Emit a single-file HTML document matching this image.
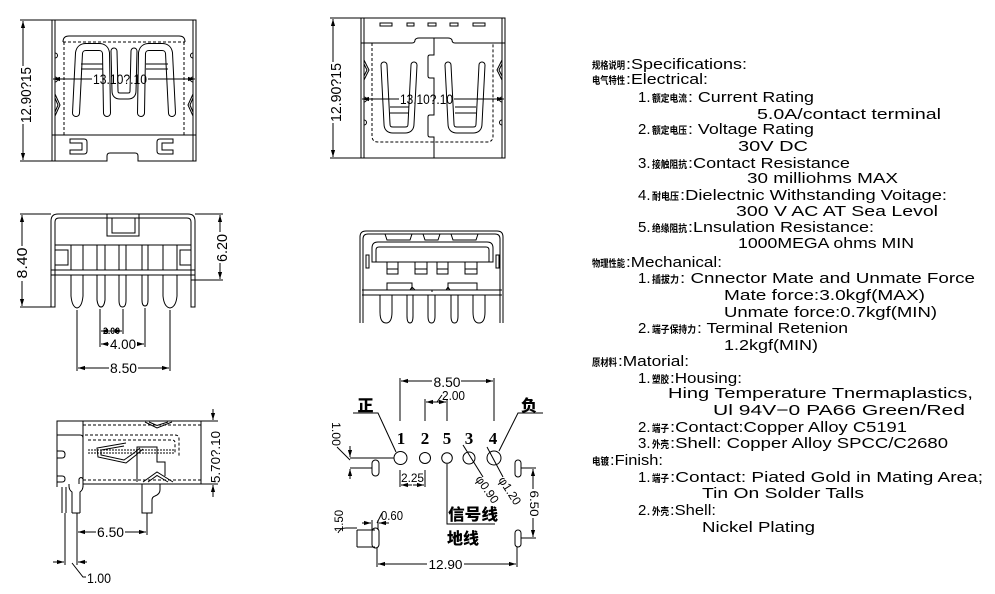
<!DOCTYPE html>
<html><head><meta charset="utf-8">
<style>
html,body{margin:0;padding:0;background:#fff;}
svg{display:block;}
text{font-family:"Liberation Sans","Noto Sans CJK SC",sans-serif;fill:#000;stroke:none;}
.cn{font-family:"Noto Sans CJK SC",sans-serif;font-weight:bold;font-size:10px;}
.t{font-size:15px;}
.d{font-size:14px;}
.b{font-family:"Liberation Serif",serif;font-weight:bold;font-size:17px;}
.bc{font-family:"Noto Sans CJK SC",sans-serif;font-weight:900;font-size:16px;}
</style></head><body>
<svg width="995" height="594" viewBox="0 0 995 594" xmlns="http://www.w3.org/2000/svg">
<defs>
<marker id="ae" markerUnits="userSpaceOnUse" markerWidth="8" markerHeight="6" refX="7" refY="3" orient="auto"><path d="M0,0.9 L7,3 L0,5.1z" fill="#000"/></marker>
</defs>
<rect width="995" height="594" fill="#fff"/>

<!-- ================= VIEW 1 ================= -->
<g fill="none" stroke="#000" stroke-width="1">
<path d="M52,161 V20 H196 V161 H138 V156 Q138,153 135,153 H110 Q107,153 107,156 V161 Z"/>
<path d="M55,20 V161 M193,20 V161 M52,135 H196"/>
<path d="M63,42 Q63,36 69,36 H179 Q185,36 185,42"/>
<path d="M63,42 H185 M64,42 V135 M184,42 V135" stroke-dasharray="3,2"/>
<path d="M70,139 H84 Q87,139 87,142 V151 Q87,154 84,154 H70 V150 H82 V143 H70 Z"/>
<path d="M173,139 H160 Q157,139 157,142 V151 Q157,154 160,154 H173 V150 H162 V143 H173 Z"/>
<path d="M55,53 A2.5,2.5 0 0 1 55,58 M55,77 A2.5,2.5 0 0 1 55,82 M55,94 L60,105 L55,116 M55,98 L58,105 L55,112"/>
<path d="M193,53 A2.5,2.5 0 0 0 193,58 M193,77 A2.5,2.5 0 0 0 193,82 M193,94 L188,105 L193,116 M193,98 L190,105 L193,112"/>
</g>
<g fill="none" stroke-linecap="round" stroke-linejoin="round">
<path d="M76,113 L79,53 Q80,47 86,47 H99 Q105,47 106,53 L107,113" stroke="#000" stroke-width="8"/>
<path d="M76,113 L79,53 Q80,47 86,47 H99 Q105,47 106,53 L107,113" stroke="#fff" stroke-width="6"/>
<path d="M172,113 L169,53 Q168,47 162,47 H149 Q143,47 142,53 L141,113" stroke="#000" stroke-width="8"/>
<path d="M172,113 L169,53 Q168,47 162,47 H149 Q143,47 142,53 L141,113" stroke="#fff" stroke-width="6"/>
<path d="M114,51 L115,91 Q115,96 120,96 H128 Q133,96 133,91 L134,51" stroke="#000" stroke-width="7"/>
<path d="M114,51 L115,91 Q115,96 120,96 H128 Q133,96 133,91 L134,51" stroke="#fff" stroke-width="5"/>
</g>
<g fill="none" stroke="#000" stroke-width="1">
<path d="M81,64 H103 M81,69 H103 M146,64 H168 M146,69 H168"/>
<path d="M92,79 H53" marker-end="url(#ae)"/>
<path d="M148,79 H195" marker-end="url(#ae)"/>
<path d="M23,66 V21" marker-end="url(#ae)"/>
<path d="M23,124 V160" marker-end="url(#ae)"/>
<path d="M20,20 H52 M20,161 H52"/>
</g>
<text class="d" x="120" y="84" text-anchor="middle" textLength="54" lengthAdjust="spacingAndGlyphs">13.10?.10</text>
<text transform="translate(31,95) rotate(-90)" font-size="15" text-anchor="middle" textLength="56" lengthAdjust="spacingAndGlyphs">12.90?15</text>

<!-- ================= VIEW 2 ================= -->
<g fill="none" stroke="#000" stroke-width="1">
<path d="M361,18 H505 V158 H361 Z M364,18 V158 M502,18 V158"/>
<path d="M380,23 h12 v3 h-12z M407,23 h7 v3 h-7z M428,23 h8 v3 h-8z M450,23 h8 v3 h-8z M473,23 h12 v3 h-12z"/>
<path d="M361,43 H412 Q415,43 415,40 Q416,38 419,38 H448 Q451,38 452,40 Q452,43 455,43 H505"/>
<path d="M434,38 V55 H430 Q428,55 428,57 V76 Q428,78 430,78 H434 V115 H430 Q428,115 428,117 V135 Q428,137 430,137 H434 V158"/>
<path d="M372,43 V136 Q372,142 378,142 H487 Q493,142 493,136 V43" stroke-dasharray="3,2"/>
<path d="M364,60 L369,70 L364,80 M364,64 L367,70 L364,76"/>
<path d="M502,60 L497,70 L502,80 M502,64 L499,70 L502,76"/>
<path d="M364,97 A2.5,2.5 0 0 1 364,102 M364,120 A2.5,2.5 0 0 1 364,125 M502,97 A2.5,2.5 0 0 0 502,102 M502,120 A2.5,2.5 0 0 0 502,125"/>
</g>
<g fill="none" stroke-linecap="round" stroke-linejoin="round">
<path d="M384,65 L387,124 Q387,130 393,130 H405 Q411,130 411,124 L414,65" stroke="#000" stroke-width="7"/>
<path d="M384,65 L387,124 Q387,130 393,130 H405 Q411,130 411,124 L414,65" stroke="#fff" stroke-width="5"/>
<path d="M448,65 L451,124 Q451,130 457,130 H473 Q479,130 479,124 L482,65" stroke="#000" stroke-width="7"/>
<path d="M448,65 L451,124 Q451,130 457,130 H473 Q479,130 479,124 L482,65" stroke="#fff" stroke-width="5"/>
</g>
<g fill="none" stroke="#000" stroke-width="1">
<path d="M390,107 H409 M390,113 H409 M455,107 H476 M455,113 H476"/>
<path d="M399,99 H362" marker-end="url(#ae)"/>
<path d="M454,99 H504" marker-end="url(#ae)"/>
<path d="M333,62 V19" marker-end="url(#ae)"/>
<path d="M333,123 V157" marker-end="url(#ae)"/>
<path d="M330,18 H361 M330,158 H361"/>
</g>
<text class="d" x="426.5" y="104" text-anchor="middle" textLength="53" lengthAdjust="spacingAndGlyphs">13.10?.10</text>
<text transform="translate(341,92.5) rotate(-90)" font-size="15" text-anchor="middle" textLength="59" lengthAdjust="spacingAndGlyphs">12.90?15</text>

<!-- ================= VIEW 3 ================= -->
<g fill="none" stroke="#000" stroke-width="1">
<path d="M51,307 V221 Q51,214 58,214 H188 Q195,214 195,221 V307 H191 V222 Q191,218 187,218 H59 Q55,218 55,222 V307 Z"/>
<path d="M107,214 V236 H139 V214"/>
<rect x="112" y="218" width="23" height="15"/>
<path d="M55,245 H191 M51,270 H195 M51,275 H195"/>
<path d="M55,250 H68 V265 H55 M191,250 H180 V265 H191"/>
<path d="M71,245 V270 M83,245 V270 M97,245 V270 M105,245 V270 M119,245 V270 M126,245 V270 M142,245 V270 M148,245 V270 M163,245 V270 M177,245 V270"/>
<path d="M71,275 V296 Q72,307 77,308 Q82,307 83,296 V275"/>
<path d="M97,275 V300 Q98,307 101,307 Q104,307 105,300 V275"/>
<path d="M119,275 V300 Q119,307 122.5,307 Q126,307 126,300 V275"/>
<path d="M142,275 V300 Q142,306 145,306 Q148,306 148,300 V275"/>
<path d="M163,275 V296 Q164,307 170,308 Q176,307 177,296 V275"/>
<path d="M20,214 H51 M20,307 H51"/>
<path d="M22,246 V215" marker-end="url(#ae)"/>
<path d="M22,281 V306" marker-end="url(#ae)"/>
<path d="M195,214 H223 M191,280 H223"/>
<path d="M220,232 V215" marker-end="url(#ae)"/>
<path d="M220,263 V279" marker-end="url(#ae)"/>
<path d="M77,310 V371 M100,309 V347 M123,309 V334 M145,308 V347 M170,310 V371"/>
<path d="M111,331 H101" marker-end="url(#ae)"/>
<path d="M112,331 H122" marker-end="url(#ae)"/>
<path d="M109,344 H101" marker-end="url(#ae)"/>
<path d="M137,344 H144" marker-end="url(#ae)"/>
<path d="M109,368 H78" marker-end="url(#ae)"/>
<path d="M138,368 H169" marker-end="url(#ae)"/>
</g>
<text transform="translate(27,263) rotate(-90)" font-size="15" text-anchor="middle" textLength="31" lengthAdjust="spacingAndGlyphs">8.40</text>
<text transform="translate(227,248) rotate(-90)" font-size="15" text-anchor="middle" textLength="28" lengthAdjust="spacingAndGlyphs">6.20</text>
<text x="111.5" y="334" font-size="9" font-weight="bold" text-anchor="middle" textLength="17" lengthAdjust="spacingAndGlyphs">2.00</text>
<text class="d" x="123" y="349" text-anchor="middle" textLength="26" lengthAdjust="spacingAndGlyphs">4.00</text>
<text class="d" x="123.5" y="373" text-anchor="middle" textLength="27" lengthAdjust="spacingAndGlyphs">8.50</text>

<!-- ================= VIEW 4 ================= -->
<g fill="none" stroke="#000" stroke-width="1">
<path d="M360,323 V237 Q360,231 366,231 H497 Q503,231 503,237 V323"/>
<path d="M363,323 V239 Q363,234 368,234 H495 Q500,234 500,239 V323"/>
<path d="M372,262 V248 Q372,242 378,242 H487 Q493,242 493,248 V262 Z"/>
<path d="M376,262 V250 Q376,247 379,247 H486 Q489,247 489,250 V262"/>
<path d="M366,255 h3 v13 h-3z M496,255 h3 v13 h-3z"/>
<path d="M385,234 L387,240 H410 L412,234 M384,234 h4 M410,234 h4"/>
<path d="M423,234 L425,240 H438 L440,234 M422,234 h4 M437,234 h4"/>
<path d="M451,234 L453,240 H476 L478,234 M450,234 h4 M475,234 h4"/>
<path d="M387,262 V274 H398 V262 M387,269 H398"/>
<path d="M415,262 V274 H427 V262 M415,269 H427"/>
<path d="M437,262 V274 H448 V262 M437,269 H448"/>
<path d="M465,262 V274 H477 V262 M465,269 H477"/>
<path d="M387,290 V283 H412 V290 M410,290 L412,287 L415,290"/>
<path d="M448,290 V283 H477 V290 M446,290 L448,287 L450,290"/>
<path d="M362,290 H502 M362,295 H502 M432,290 V292"/>
<path d="M380,295 V312 Q380,323 386,323 Q392,323 392,312 V295"/>
<path d="M407,295 V316 Q407,323 410,323 Q413,323 413,316 V295"/>
<path d="M428,295 V316 Q428,323 431.5,323 Q435,323 435,316 V295"/>
<path d="M451,295 V316 Q451,323 454.5,323 Q458,323 458,316 V295"/>
<path d="M473,295 V312 Q473,323 479,323 Q485,323 485,312 V295"/>
</g>

<!-- ================= VIEW 5 ================= -->
<g fill="none" stroke="#000" stroke-width="1">
<path d="M57,487 V421 H201 V484 H83"/>
<path d="M83,425 H201 M83,480 H201" stroke-dasharray="3,2"/>
<path d="M83,421 V487 M57,435 H80 Q83,435 83,438"/>
<path d="M57,451 H62 Q65,451 65,454.5 Q65,458 62,458 H57 M57,476 H62 Q65,476 65,479 Q65,482 62,482 H57"/>
<path d="M85,435 H175 Q179,435 179,439 V457 M88,440 H172 Q175,440 175,443 V453" stroke-dasharray="3,2"/>
<path d="M88,450 H175 M88,453 H175" stroke-dasharray="2,1"/>
<path d="M126,443 L97,448 L98,457 L126,463 L136,455 L143,449 M124,446 L101,450 L101,455 L124,460 L134,453 L140,448"/>
<path d="M137,482 V447 H157 V462 H165 V476"/>
<path d="M145,422 L157,428 L172,422 M149,422 L157,425.5 L168,422"/>
<path d="M143,482 L157,472 L173,482 M148,482 L157,475.5 L168,482"/>
<path d="M62,487 V513 M66,487 V513"/>
<path d="M72,513 V492 Q69,490 69,486 V484 M80,513 V492 Q83,490 83,486 V484 M72,513 H80"/>
<path d="M79,484 V479 Q81,476 83,479"/>
<path d="M142,484 V513 H152 V500 Q152,497 155,496 Q160,494 160,490 V484"/>
<path d="M77,513 V565 M65,513 V565 M147,513 V535"/>
<path d="M96,532 H78" marker-end="url(#ae)"/>
<path d="M125,532 H146" marker-end="url(#ae)"/>
<path d="M53,562 H64" marker-end="url(#ae)"/>
<path d="M87,562 H78" marker-end="url(#ae)"/>
<path d="M72,563 L83,577 H86"/>
<path d="M201,421 H218 M201,484 H218"/>
<path d="M213,409 V420" marker-end="url(#ae)"/>
<path d="M213,497 V485" marker-end="url(#ae)"/>
</g>
<text class="d" x="110.5" y="537" text-anchor="middle" textLength="27" lengthAdjust="spacingAndGlyphs">6.50</text>
<text class="d" x="87" y="583" textLength="24" lengthAdjust="spacingAndGlyphs">1.00</text>
<text transform="translate(220,457) rotate(-90)" font-size="13" text-anchor="middle" textLength="52" lengthAdjust="spacingAndGlyphs">5.70?.10</text>

<!-- ================= VIEW 6 ================= -->
<g fill="none" stroke="#000" stroke-width="1">
<circle cx="400.5" cy="458" r="6.5"/>
<circle cx="425" cy="458" r="5.5"/>
<circle cx="447" cy="458" r="5.3"/>
<circle cx="469" cy="458" r="6"/>
<circle cx="494" cy="458" r="7"/>
<path d="M400,378 V421 M494,378 V421"/>
<path d="M432,381 H401" marker-end="url(#ae)"/>
<path d="M461,381 H493" marker-end="url(#ae)"/>
<path d="M425,399 V421 M447,399 V421"/>
<path d="M436,402 H426" marker-end="url(#ae)"/>
<path d="M436,402 H446" marker-end="url(#ae)"/>
<path d="M437,402 L442,395"/>
<path d="M353,413 H378 L396,452"/>
<path d="M543,413 H518 L499,451"/>
<path d="M463,445 L483,477"/>
<path d="M487,447 L503,477"/>
<path d="M337,447 L350,460"/>
<path d="M350,458 H394 M350,468 H372"/>
<path d="M350,446 V457" marker-end="url(#ae)"/>
<path d="M350,479 V469" marker-end="url(#ae)"/>
<rect x="372" y="460" width="7" height="16" rx="3.5"/>
<path d="M400,470 V487 M425,470 V487"/>
<path d="M412,485 H401" marker-end="url(#ae)"/>
<path d="M413,485 H424" marker-end="url(#ae)"/>
<path d="M447,464 V524 H495"/>
<rect x="515" y="460" width="6" height="17" rx="3"/>
<rect x="515" y="530" width="6" height="17" rx="3"/>
<path d="M521,468 H536 M521,538 H536"/>
<path d="M533,489 V469" marker-end="url(#ae)"/>
<path d="M533,518 V537" marker-end="url(#ae)"/>
<path d="M357,530 H375 M357,547 H375 M357,530 V547"/>
<rect x="372" y="528" width="7" height="20" rx="3.5"/>
<path d="M338,533 Q340,528 346,528 H357"/>
<path d="M372,520 V530 M378,520 V530"/>
<path d="M362,523 H371" marker-end="url(#ae)"/>
<path d="M389,523 H379" marker-end="url(#ae)"/>
<path d="M377,523 L382,513"/>
<path d="M377,548 V567 M517,547 V567"/>
<path d="M427,564 H378" marker-end="url(#ae)"/>
<path d="M464,564 H516" marker-end="url(#ae)"/>
</g>
<text class="b" x="401" y="444" text-anchor="middle">1</text>
<text class="b" x="425" y="444" text-anchor="middle">2</text>
<text class="b" x="447" y="444" text-anchor="middle">5</text>
<text class="b" x="469" y="444" text-anchor="middle">3</text>
<text class="b" x="493" y="444" text-anchor="middle">4</text>
<text class="bc" x="365.5" y="411" text-anchor="middle">正</text>
<text class="bc" x="529" y="411" text-anchor="middle">负</text>
<text class="bc" x="448" y="520" textLength="50" lengthAdjust="spacingAndGlyphs">信号线</text>
<text class="bc" x="447" y="544">地线</text>
<text class="d" x="447" y="387" text-anchor="middle" textLength="27" lengthAdjust="spacingAndGlyphs">8.50</text>
<text x="442" y="400" font-size="13" textLength="23" lengthAdjust="spacingAndGlyphs">2.00</text>
<text x="412.5" y="482" font-size="12" text-anchor="middle" textLength="23" lengthAdjust="spacingAndGlyphs">2.25</text>
<text transform="translate(475,479) rotate(55)" font-size="12" textLength="31" lengthAdjust="spacingAndGlyphs">φ0.90</text>
<text transform="translate(498,480) rotate(57)" font-size="12" textLength="31" lengthAdjust="spacingAndGlyphs">φ1.20</text>
<text transform="translate(332,422) rotate(90)" font-size="12" textLength="24" lengthAdjust="spacingAndGlyphs">1.00</text>
<text transform="translate(530,503.5) rotate(90)" font-size="12" text-anchor="middle" textLength="26" lengthAdjust="spacingAndGlyphs">6.50</text>
<text transform="translate(343,521) rotate(-90)" font-size="12" text-anchor="middle" textLength="22" lengthAdjust="spacingAndGlyphs">1.50</text>
<text x="381" y="520" font-size="13" textLength="22" lengthAdjust="spacingAndGlyphs">0.60</text>
<text x="445.5" y="569" font-size="13" text-anchor="middle" textLength="34" lengthAdjust="spacingAndGlyphs">12.90</text>

<!-- ================= SPEC TEXT ================= -->
<g class="t">
<text class="cn" x="592" y="69" textLength="33" lengthAdjust="spacingAndGlyphs">规格说明</text>
<text x="626" y="69" textLength="121" lengthAdjust="spacingAndGlyphs">:Specifications:</text>
<text class="cn" x="592" y="84" textLength="33" lengthAdjust="spacingAndGlyphs">电气特性</text>
<text x="626" y="84" textLength="82" lengthAdjust="spacingAndGlyphs">:Electrical:</text>

<text x="638" y="102">1.</text>
<text class="cn" x="652" y="102" textLength="35" lengthAdjust="spacingAndGlyphs">额定电流</text>
<text x="688" y="102" textLength="126" lengthAdjust="spacingAndGlyphs">: Current  Rating</text>
<text x="757" y="119" textLength="184" lengthAdjust="spacingAndGlyphs">5.0A/contact  terminal</text>

<text x="638" y="134">2.</text>
<text class="cn" x="652" y="134" textLength="35" lengthAdjust="spacingAndGlyphs">额定电压</text>
<text x="688" y="134" textLength="126" lengthAdjust="spacingAndGlyphs">: Voltage  Rating</text>
<text x="738" y="151" textLength="70" lengthAdjust="spacingAndGlyphs">30V  DC</text>

<text x="638" y="168">3.</text>
<text class="cn" x="652" y="168" textLength="35" lengthAdjust="spacingAndGlyphs">接触阻抗</text>
<text x="688" y="168" textLength="162" lengthAdjust="spacingAndGlyphs">:Contact  Resistance</text>
<text x="747" y="183" textLength="151" lengthAdjust="spacingAndGlyphs">30  milliohms  MAX</text>

<text x="638" y="200">4.</text>
<text class="cn" x="652" y="200" textLength="27" lengthAdjust="spacingAndGlyphs">耐电压</text>
<text x="680" y="200" textLength="267" lengthAdjust="spacingAndGlyphs">:Dielectnic  Withstanding  Voitage:</text>
<text x="736" y="216" textLength="202" lengthAdjust="spacingAndGlyphs">300  V  AC  AT  Sea  Levol</text>

<text x="638" y="232">5.</text>
<text class="cn" x="652" y="232" textLength="35" lengthAdjust="spacingAndGlyphs">绝缘阻抗</text>
<text x="688" y="232" textLength="186" lengthAdjust="spacingAndGlyphs">:Lnsulation  Resistance:</text>
<text x="738" y="248" textLength="176" lengthAdjust="spacingAndGlyphs">1000MEGA  ohms  MIN</text>

<text class="cn" x="592" y="267" textLength="33" lengthAdjust="spacingAndGlyphs">物理性能</text>
<text x="626" y="267" textLength="96" lengthAdjust="spacingAndGlyphs">:Mechanical:</text>

<text x="638" y="283">1.</text>
<text class="cn" x="652" y="283" textLength="27" lengthAdjust="spacingAndGlyphs">插拔力</text>
<text x="680" y="283" textLength="295" lengthAdjust="spacingAndGlyphs">: Cnnector  Mate  and  Unmate  Force</text>
<text x="724" y="300" textLength="201" lengthAdjust="spacingAndGlyphs">Mate  force:3.0kgf(MAX)</text>
<text x="724" y="317" textLength="213" lengthAdjust="spacingAndGlyphs">Unmate  force:0.7kgf(MIN)</text>

<text x="638" y="333">2.</text>
<text class="cn" x="652" y="333" textLength="44" lengthAdjust="spacingAndGlyphs">端子保持力</text>
<text x="697" y="333" textLength="151" lengthAdjust="spacingAndGlyphs">: Terminal  Retenion</text>
<text x="724" y="350" textLength="94" lengthAdjust="spacingAndGlyphs">1.2kgf(MIN)</text>

<text class="cn" x="592" y="366" textLength="25" lengthAdjust="spacingAndGlyphs">原材料</text>
<text x="618" y="366" textLength="71" lengthAdjust="spacingAndGlyphs">:Matorial:</text>

<text x="638" y="383">1.</text>
<text class="cn" x="652" y="383" textLength="17" lengthAdjust="spacingAndGlyphs">塑胶</text>
<text x="670" y="383" textLength="72" lengthAdjust="spacingAndGlyphs">:Housing:</text>
<text x="668" y="398" textLength="305" lengthAdjust="spacingAndGlyphs">Hing  Temperature   Tnermaplastics,</text>
<text x="713" y="415" textLength="252" lengthAdjust="spacingAndGlyphs">Ul  94V−0   PA66  Green/Red</text>

<text x="638" y="432">2.</text>
<text class="cn" x="652" y="432" textLength="17" lengthAdjust="spacingAndGlyphs">端子</text>
<text x="670" y="432" textLength="237" lengthAdjust="spacingAndGlyphs">:Contact:Copper  Alloy  C5191</text>

<text x="638" y="448">3.</text>
<text class="cn" x="652" y="448" textLength="17" lengthAdjust="spacingAndGlyphs">外壳</text>
<text x="670" y="448" textLength="278" lengthAdjust="spacingAndGlyphs">:Shell:  Copper  Alloy  SPCC/C2680</text>

<text class="cn" x="592" y="465" textLength="17" lengthAdjust="spacingAndGlyphs">电镀</text>
<text x="610" y="465" textLength="53" lengthAdjust="spacingAndGlyphs">:Finish:</text>

<text x="638" y="482">1.</text>
<text class="cn" x="652" y="482" textLength="17" lengthAdjust="spacingAndGlyphs">端子</text>
<text x="670" y="482" textLength="313" lengthAdjust="spacingAndGlyphs">:Contact:  Piated  Gold  in  Mating  Area;</text>
<text x="702" y="498" textLength="162" lengthAdjust="spacingAndGlyphs">Tin  On  Solder  Talls</text>

<text x="638" y="515">2.</text>
<text class="cn" x="652" y="515" textLength="17" lengthAdjust="spacingAndGlyphs">外壳</text>
<text x="670" y="515" textLength="46" lengthAdjust="spacingAndGlyphs">:Shell:</text>
<text x="702" y="532" textLength="113" lengthAdjust="spacingAndGlyphs">Nickel  Plating</text>
</g>
</svg>
</body></html>
